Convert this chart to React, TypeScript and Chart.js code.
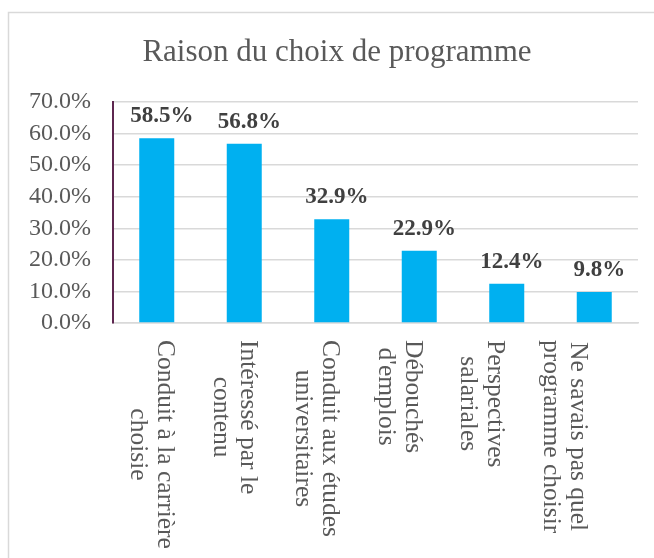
import React, { useEffect, useRef } from 'react';
import { Chart, registerables } from 'chart.js';

Chart.register(...registerables);

const chartTitle = 'Raison du choix de programme';
const categories: string[][] = [
  ['Conduit à la carrière', 'choisie'],
  ['Intéressé par le', 'contenu'],
  ['Conduit aux études', 'universitaires'],
  ['Débouchés', "d'emplois"],
  ['Perspectives', 'salariales'],
  ['Ne savais pas quel', 'programme choisir'],
];
const values = [58.5, 56.8, 32.9, 22.9, 12.4, 9.8];
const yMin = 0;
const yMax = 70;
const yStep = 10;

const SERIF = '"Liberation Serif", "Times New Roman", serif';
const GRAY = '#595959';

const framePlugin = {
  id: 'frameAndTitle',
  beforeDraw(chart: any) {
    const ctx = chart.ctx;
    ctx.save();
    ctx.strokeStyle = '#d9d9d9';
    ctx.lineWidth = 1.5;
    ctx.beginPath();
    ctx.moveTo(8.5, chart.height);
    ctx.lineTo(8.5, 12.5);
    ctx.lineTo(chart.width, 12.5);
    ctx.stroke();
    ctx.fillStyle = GRAY;
    ctx.font = `31px ${SERIF}`;
    ctx.textAlign = 'center';
    ctx.textBaseline = 'alphabetic';
    ctx.fillText(chartTitle, chart.width / 2 + 10, 61);
    ctx.restore();
  },
};

const labelsPlugin = {
  id: 'customLabels',
  afterDatasetsDraw(chart: any) {
    const ctx = chart.ctx;
    const meta = chart.getDatasetMeta(0);
    ctx.save();
    ctx.fillStyle = '#404040';
    ctx.font = `bold 23px ${SERIF}`;
    ctx.textAlign = 'center';
    ctx.textBaseline = 'alphabetic';
    meta.data.forEach((bar: any, i: number) => {
      ctx.fillText(values[i].toFixed(1) + '%', bar.x + 5, bar.y - 16);
    });
    ctx.restore();
  },
  afterDraw(chart: any) {
    const ctx = chart.ctx;
    const xs = chart.scales.x;
    const left = xs.left;
    ctx.save();
    ctx.fillStyle = GRAY;
    ctx.font = `25.5px ${SERIF}`;
    categories.forEach((lines, i) => {
      const b = xs.getPixelForTick(i);
      const cx = left + (b - left) * 0.943 - 3;
      const maxW = Math.max(...lines.map((l) => ctx.measureText(l).width));
      ctx.save();
      ctx.translate(cx, xs.top + 17);
      ctx.rotate(Math.PI / 2);
      ctx.textAlign = 'center';
      ctx.textBaseline = 'middle';
      const n = lines.length;
      lines.forEach((l, j) => {
        ctx.fillText(l, maxW / 2, (j - (n - 1) / 2) * 27);
      });
      ctx.restore();
    });
    ctx.restore();
  },
};

export default function App() {
  const ref = useRef<HTMLCanvasElement | null>(null);
  useEffect(() => {
    if (!ref.current) return;
    const chart = new Chart(ref.current, {
      type: 'bar',
      data: {
        labels: categories.map((c) => c.join(' ')),
        datasets: [
          {
            data: values,
            backgroundColor: '#00B0F0',
            borderWidth: 0,
            barPercentage: 0.4,
            categoryPercentage: 1,
          },
        ],
      },
      options: {
        responsive: false,
        animation: false,
        layout: { padding: { top: 102, right: 16, left: 0, bottom: 0 } },
        plugins: {
          legend: { display: false },
          title: { display: false },
          tooltip: { enabled: false },
        },
        scales: {
          x: {
            type: 'category',
            offset: true,
            grid: { display: false },
            border: { display: true, color: '#d9d9d9', width: 1.5 },
            ticks: { display: false },
            afterFit: (s: any) => {
              s.height = 235;
            },
          },
          y: {
            min: yMin,
            max: yMax,
            ticks: {
              stepSize: yStep,
              callback: (v: any) => Number(v).toFixed(1) + '%',
              font: { family: SERIF, size: 24, lineHeight: 1 },
              color: GRAY,
              padding: 22,
            },
            grid: { color: '#d9d9d9', lineWidth: 1.5, drawTicks: false },
            border: { display: true, color: '#5e2750', width: 2 },
            afterFit: (s: any) => {
              s.width = 113;
            },
          },
        },
      },
      plugins: [framePlugin, labelsPlugin],
    });
    return () => chart.destroy();
  }, []);
  return (
    <div style={{ position: 'absolute', left: 0, top: 0, width: 654, height: 558 }}>
      <canvas ref={ref} width={654} height={558} style={{ width: 654, height: 558, display: 'block' }} />
    </div>
  );
}
